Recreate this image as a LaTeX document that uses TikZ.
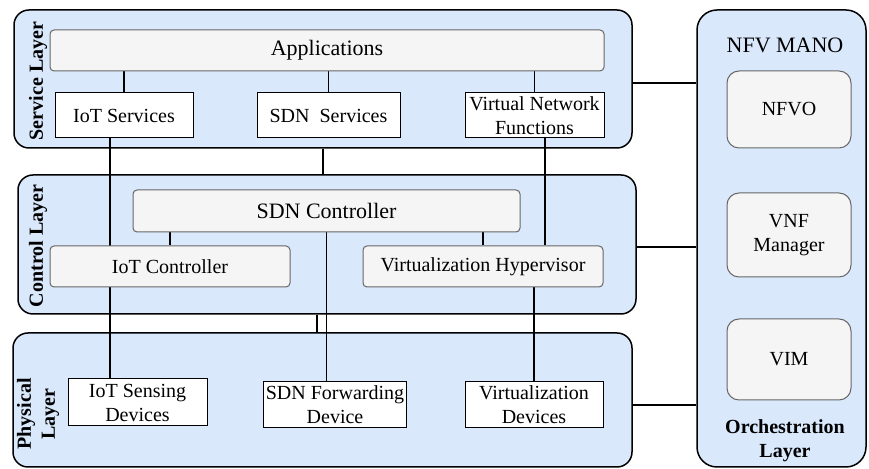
\documentclass[tikz,border=0pt]{standalone}
\usepackage{fontspec}
\setmainfont{Liberation Serif}
\usepackage{tikz}

\pgfdeclarelayer{background}
\pgfdeclarelayer{wires}
\pgfsetlayers{background,wires,main}

\definecolor{layerblue}{HTML}{DAE8FC}
\definecolor{boxgray}{HTML}{F5F5F5}
\definecolor{boxline}{HTML}{666666}

\tikzset{
    panel/.style={draw=black, line width=0.75pt, fill=layerblue, rounded corners=7.5pt, inner sep=0pt},
    softbox/.style={draw=boxline, line width=0.5pt, fill=boxgray, rounded corners=2pt, inner sep=1pt, align=center},
    plainbox/.style={draw=black, line width=0.5pt, fill=white, inner sep=1pt, align=center},
    wire/.style={line width=0.75pt},
    layerlabel/.style={rotate=90, font=\bfseries, align=center},
    bigtext/.style={font=\fontsize{11}{13}\selectfont}
}

\begin{document}
\begin{tikzpicture}[x=0.5pt, y=-0.5pt]
    \useasboundingbox (0,0) rectangle (869,469);

    % Service layer boxes
    \node[softbox, bigtext, minimum width=277pt, minimum height=20.5pt] (apps) at (327,50.5) {Applications};
    \node[plainbox, minimum width=69pt, minimum height=22.5pt] (iotsrv) at (124,115.5) {IoT Services};
    \node[plainbox, minimum width=71.5pt, minimum height=22.5pt] (sdnsrv) at (328.5,115.5) {SDN\ \ Services};
    \node[plainbox, minimum width=69.5pt, minimum height=22.5pt] (vnf) at (534.5,115.5) {Virtual Network\\Functions};

    % Control layer boxes
    \node[softbox, bigtext, minimum width=193.5pt, minimum height=21pt] (sdnctl) at (326.5,211) {SDN Controller};
    \node[softbox, minimum width=120pt, minimum height=20.5pt] (iotctl) at (170,266.5) {IoT Controller};
    \node[softbox, minimum width=120pt, minimum height=20.5pt] (virthyp) at (483,266.5) {Virtualization Hypervisor};

    % Physical layer boxes
    \node[plainbox, minimum width=69.5pt, minimum height=23.5pt] (iotsens) at (137.5,402.5) {IoT Sensing\\Devices};
    \node[plainbox, minimum width=70pt, minimum height=23pt] (sdnfwd) at (335,405) {SDN Forwarding\\Device};
    \node[plainbox, minimum width=69pt, minimum height=23pt] (virtdev) at (534,405) {Virtualization\\Devices};

    % NFV MANO boxes
    \node[softbox, rounded corners=6pt, minimum width=62pt, minimum height=38.5pt] (nfvo) at (789,109.5) {NFVO};
    \node[softbox, rounded corners=6pt, minimum width=62pt, minimum height=42pt] (vnfm) at (789,235) {VNF\\Manager};
    \node[softbox, rounded corners=6pt, minimum width=62pt, minimum height=40.5pt] (vim) at (789,359.5) {VIM};

    % Layer panels
    \begin{pgfonlayer}{background}
        \node[panel, minimum width=309pt, minimum height=69pt] (svc) at (323,79) {};
        \node[panel, minimum width=309pt, minimum height=69.5pt] (ctl) at (327,244.5) {};
        \node[panel, minimum width=309.5pt, minimum height=67pt] (phy) at (322.5,400) {};
        \node[panel, rounded corners=10pt, minimum width=84.5pt, minimum height=228.5pt] (mano) at (781.5,238.5) {};
    \end{pgfonlayer}

    % Layer labels
    \node[layerlabel] (svclbl) at (38,81) {Service Layer};
    \node[layerlabel] (ctllbl) at (38,246) {Control Layer};
    \node[layerlabel] (phylbl) at (38,414) {Physical\\Layer};
    \node[bigtext] (manolbl) at (785,45) {NFV MANO};
    \node[font=\bfseries, align=center] (orchlbl) at (785,441) {Orchestration\\Layer};

    % Connectors
    \begin{pgfonlayer}{wires}
        \draw[wire] (iotsrv.north |- apps.south) -- (iotsrv.north);
        \draw[wire] (sdnsrv.north |- apps.south) -- (sdnsrv.north);
        \draw[wire] (vnf.north |- apps.south) -- (vnf.north);
        \draw[wire] ([xshift=-7pt]iotsrv.south) -- ([xshift=-7pt]iotsrv.south |- iotsens.north);
        \draw[wire] ([xshift=5.25pt]vnf.south) -- ([xshift=5.25pt]vnf.south |- virthyp.north);
        \draw[wire] (svc.south) -- (svc.south |- ctl.north);

        \draw[wire] (iotctl.north |- sdnctl.south) -- (iotctl.north);
        \draw[wire] (virthyp.north |- sdnctl.south) -- (virthyp.north);
        \draw[wire] (sdnctl.south) -- (sdnctl.south |- sdnfwd.north);
        \draw[wire] (virtdev.north |- virthyp.south) -- (virtdev.north);
        \draw[wire] ([xshift=-5pt]ctl.south) -- ([xshift=-5pt]ctl.south |- phy.north);

        % Links to NFV MANO
        \draw[wire] ([yshift=-2pt]svc.east) -- ([yshift=-2pt]svc.east -| mano.west);
        \draw[wire] ([yshift=-1.25pt]ctl.east) -- ([yshift=-1.25pt]ctl.east -| mano.west);
        \draw[wire] ([yshift=-2.5pt]phy.east) -- ([yshift=-2.5pt]phy.east -| mano.west);
    \end{pgfonlayer}
\end{tikzpicture}
\end{document}
